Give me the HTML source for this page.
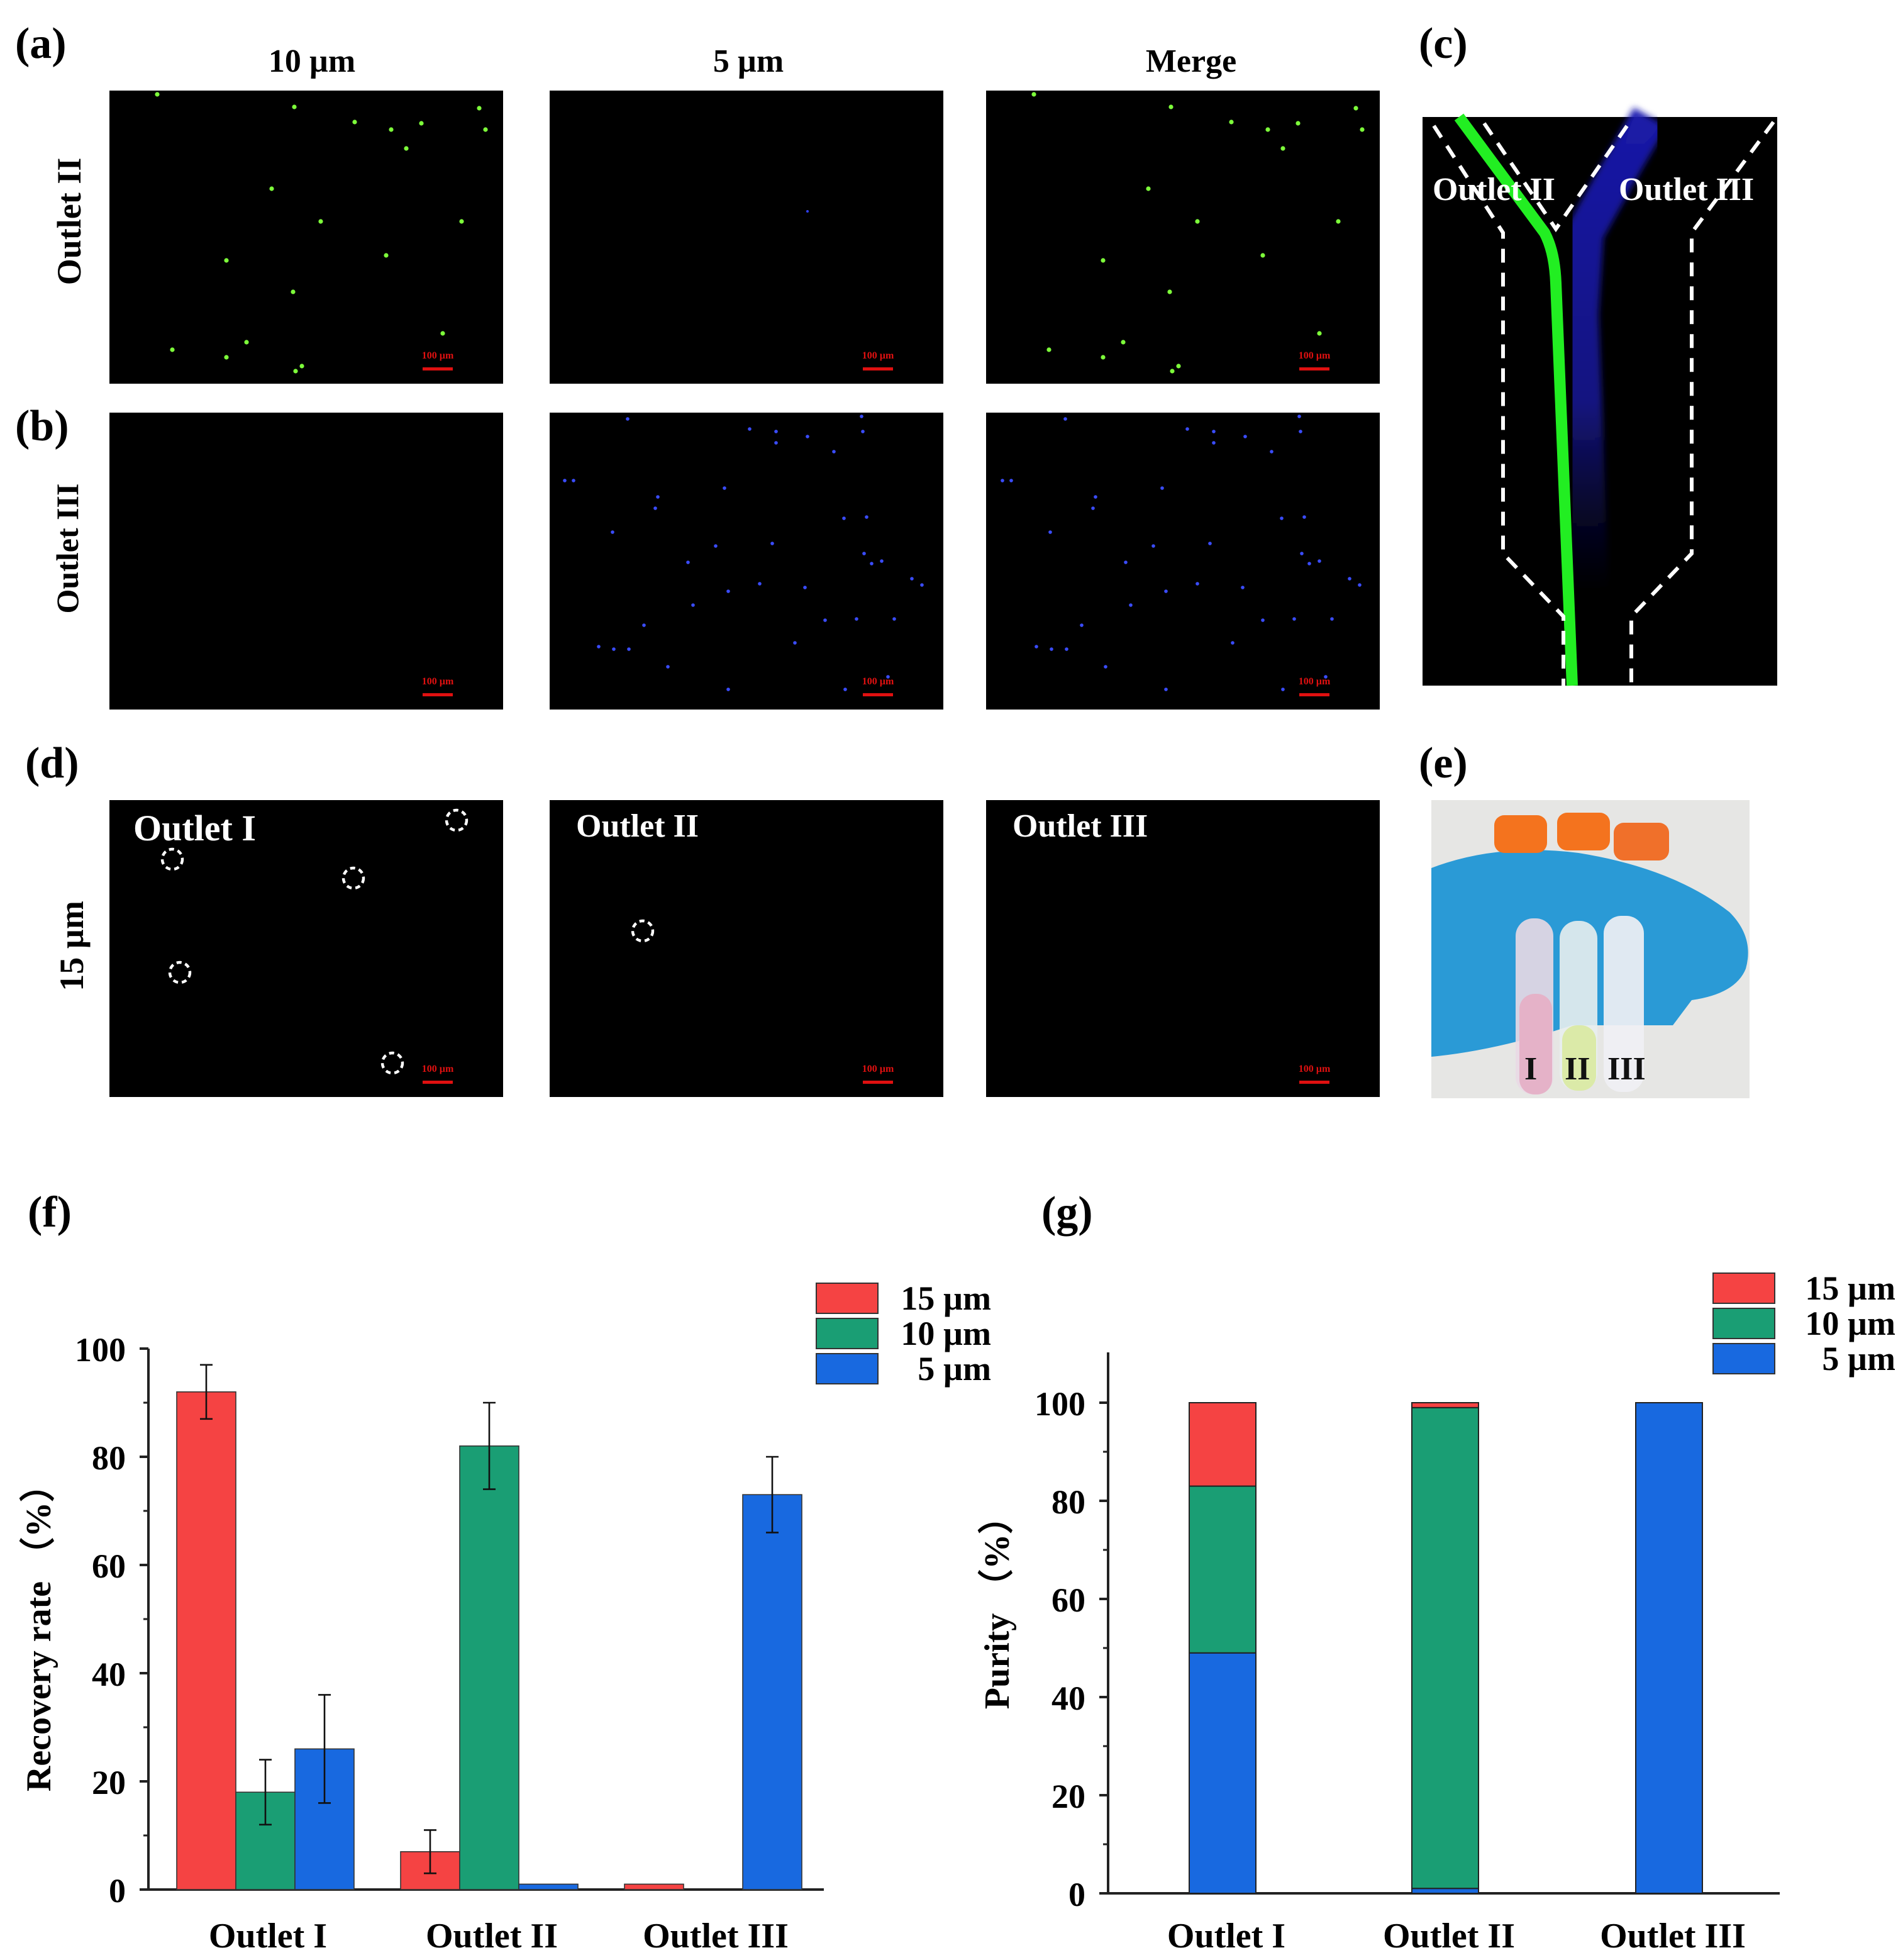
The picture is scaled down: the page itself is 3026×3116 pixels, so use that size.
<!DOCTYPE html>
<html><head><meta charset="utf-8"><style>
html,body{margin:0;padding:0;background:#fff}
svg{display:block}
text{font-family:"Liberation Serif",serif;font-weight:bold}
</style></head><body>
<svg id="fig" width="3026" height="3116" viewBox="0 0 1513 1558" xmlns="http://www.w3.org/2000/svg">
<defs>
<linearGradient id="blueFade" x1="0" y1="0" x2="0" y2="1">
<stop offset="0" stop-color="#1a1ab0" stop-opacity="0.95"/>
<stop offset="0.6" stop-color="#1a1aa0" stop-opacity="0.8"/>
<stop offset="1" stop-color="#101060" stop-opacity="0"/>
</linearGradient>
<filter id="soft"><feGaussianBlur stdDeviation="2.5"/></filter>
</defs>
<rect width="1513" height="1558" fill="#fff"/>
<g id="labels" font-size="35">
<text x="12" y="46">(a)</text>
<text x="12" y="350">(b)</text>
<text x="1128" y="46">(c)</text>
<text x="20" y="618">(d)</text>
<text x="1128" y="618">(e)</text>
<text x="22" y="975">(f)</text>
<text x="828" y="975">(g)</text>
</g>
<g font-size="26" text-anchor="middle">
<text x="248" y="57">10 µm</text>
<text x="595" y="57">5 µm</text>
<text x="947" y="57">Merge</text>
<text transform="translate(64,176) rotate(-90)" font-size="27">Outlet II</text>
<text transform="translate(62,436) rotate(-90)" font-size="25">Outlet III</text>
<text transform="translate(66,752) rotate(-90)" font-size="27">15 µm</text>
</g>
<g id="panels"></g>
<g>
<rect x="1131" y="93" width="282" height="452" fill="#000"/>
<path d="M1312,93 L1285,140 L1260,185 L1256,250 L1259,330 L1264,470" stroke="url(#blueFade)" stroke-width="30" fill="none" filter="url(#soft)"/>
<path d="M1160,93 L1228,185 Q1236,200 1237,225 L1250,545" stroke="#22ee22" stroke-width="9" fill="none"/>
<g stroke="#fff" stroke-width="3" stroke-dasharray="11,8" fill="none">
<path d="M1140,100 L1195,185 L1195,440 L1243,490 L1243,545"/>
<path d="M1180,98 L1237,182 L1295,98"/>
<path d="M1410,97 L1345,185 L1345,440 L1297,490 L1297,545"/>
</g>
<text x="1139" y="159" fill="#fff" font-size="26">Outlet II</text>
<text x="1287" y="159" fill="#fff" font-size="26">Outlet III</text>
</g>
<g>
<rect x="1138" y="636" width="253" height="237" fill="#e6e6e4"/>
<path d="M1138,690 Q1190,670 1255,678 Q1330,690 1375,725 Q1395,745 1388,770 Q1380,790 1345,795 L1330,815 L1250,815 Q1190,835 1138,840 Z" fill="#2a9ad6"/>
<rect x="1188" y="648" width="42" height="30" rx="8" fill="#f4731e"/>
<rect x="1238" y="646" width="42" height="30" rx="8" fill="#f4731e"/>
<rect x="1283" y="654" width="44" height="30" rx="8" fill="#f0702a"/>
<rect x="1205" y="730" width="30" height="140" rx="14" fill="#e9d9e4" opacity="0.9"/>
<rect x="1208" y="790" width="26" height="80" rx="12" fill="#e5b2c8"/>
<rect x="1240" y="732" width="30" height="135" rx="14" fill="#e8eeee" opacity="0.9"/>
<rect x="1242" y="815" width="27" height="52" rx="12" fill="#dbeaa8"/>
<rect x="1275" y="728" width="32" height="140" rx="14" fill="#f0f0f4" opacity="0.92"/>
<text x="1212" y="858" font-size="26" fill="#111">I</text>
<text x="1244" y="858" font-size="26" fill="#111">II</text>
<text x="1278" y="858" font-size="26" fill="#111">III</text>
</g>
<g id="chartF"></g>
<g id="chartG"></g>
</svg>
<script>
const NS='http://www.w3.org/2000/svg';
function mk(tag,attrs,parent,txt){const e=document.createElementNS(NS,tag);for(const k in attrs)e.setAttribute(k,attrs[k]);if(txt!==undefined)e.textContent=txt;parent.appendChild(e);return e;}

const greenDots=[[125,75],[234,85],[282,97],[311,103],[335,98],[381,86],[386,103],[323,118],[216,150],[255,176],[367,176],[307,203],[180,207],[233,232],[352,265],[196,272],[180,284],[240,291],[235,295],[137,278]];
const blueDots=[[499,333],[596,341],[617,343],[642,347],[685,331],[686,343],[617,352],[456,382],[449,382],[576,388],[523,395],[521,404],[663,359],[671,412],[689,411],[487,423],[569,434],[614,432],[687,440],[701,446],[693,448],[547,447],[579,470],[604,464],[733,465],[725,460],[551,481],[512,497],[476,514],[488,516],[500,516],[531,530],[656,493],[681,492],[711,492],[706,538],[672,548],[579,548],[632,511],[640,467]];
const panels=document.getElementById('panels');
const cols=[87,437,784], rows=[[72,233],[328,236],[636,236]];
rows.forEach((r,ri)=>cols.forEach((cx,ci)=>{
  const g=mk('g',{},panels);
  
  
  mk('rect',{x:cx,y:r[0],width:313,height:r[1],fill:'#000'},g);
  mk('rect',{x:cx+249,y:r[0]+r[1]-13,width:24,height:2.5,fill:'#e01010'},g);
  mk('text',{x:cx+261,y:r[0]+r[1]-20,'font-size':8,fill:'#e01010','text-anchor':'middle'},g,'100 µm');
  if(ri===0&&ci!==1) greenDots.forEach(d=>mk('circle',{cx:d[0]+(ci===2?697:0),cy:d[1],r:1.8,fill:'#7dff3a'},g));
  if(ri===0&&ci===1) mk('circle',{cx:642,cy:168,r:1,fill:'#3040ff'},g);
  if(ri===1&&ci!==0) blueDots.forEach(d=>mk('circle',{cx:d[0]+(ci===2?348:0),cy:d[1],r:1.4,fill:'#3a4cff'},g));
}));
const dLabels=['Outlet  I','Outlet II','Outlet III'];
const dCircles=[[[137,683],[281,698],[363,652],[143,773],[312,845]],[[511,740]],[]];
cols.forEach((cx,i)=>{
  const t=mk('text',{x:cx+(i===0?19:21),y:i===0?668:665,fill:'#fff','font-size':i===0?29:26},panels,dLabels[i]);
  
  
  dCircles[i].forEach(c=>mk('circle',{cx:c[0],cy:c[1],r:8,fill:'none',stroke:'#fff','stroke-width':2.2,'stroke-dasharray':'4,3'},panels));
});

// ---- chart (f) data ----
const fCategories=['Outlet I','Outlet II','Outlet III'];
const fSeries=['15 µm','10 µm','5 µm'];
const fRed=[92,7,1];
const fGreen=[18,82,0];
const fBlue=[26,1,73];
const fRedErr=[5,4,0];
const fGreenErr=[6,8,0];
const fBlueErr=[10,0,7];
const fTicks=[0,20,40,60,80,100];

// ---- chart (g) data ----
const gCategories=['Outlet I','Outlet II','Outlet III'];
const gBlue=[49,1,100];
const gGreen=[34,98,0];
const gRed=[17,1,0];
const gTicks=[0,20,40,60,80,100];

const colors=['#f54343','#1a9e74','#1869e0'];

function axisY(g,x,y0,y1,vmax,ticks,xEnd,yTop){
  mk('line',{x1:x,y1:yTop,x2:x,y2:y0,stroke:'#222','stroke-width':2},g);
  mk('line',{x1:x-6,y1:y0,x2:xEnd,y2:y0,stroke:'#222','stroke-width':2},g);
  const sc=v=>y0-(y0-y1)*v/vmax;
  for(let v=10;v<=vmax;v+=20) mk('line',{x1:x-4,y1:sc(v),x2:x,y2:sc(v),stroke:'#222','stroke-width':1.5},g);
  ticks.forEach(v=>{
    mk('line',{x1:x-7,y1:sc(v),x2:x,y2:sc(v),stroke:'#222','stroke-width':2},g);
    const t=mk('text',{x:x-18,y:sc(v)+10,'font-size':27,'text-anchor':'end'},g,String(v));
    
    
  });
  return sc;
}
function legend(g,x,y,step,tx){
  fSeries.forEach((s,i)=>{
    const r=mk('rect',{x:x,y:y+i*step,width:49,height:24,fill:colors[i],stroke:'#333','stroke-width':1},g);
    
    
    const t=mk('text',{x:tx,y:y+i*step+21,'font-size':27,'text-anchor':'end'},g,i===2?'5  µm':s);
    
    
  });
}

(function(){
  const g=document.getElementById('chartF');
  
  
  const x0=118, y0=1502, y100=1072;
  const sc=axisY(g,x0,y0,y100,100,fTicks,655,1072);
  const centers=[211,389,567], bw=47;
  const vals=[fRed,fGreen,fBlue], errs=[fRedErr,fGreenErr,fBlueErr];
  fCategories.forEach((c,ci)=>{
    vals.forEach((arr,si)=>{
      const v=arr[ci]; if(v<=0) return;
      const bx=centers[ci]+(si-1.5)*bw;
      const r=mk('rect',{x:bx,y:sc(v),width:bw,height:y0-sc(v),fill:colors[si],stroke:'#333','stroke-width':0.8},g);
      
      
      const e=errs[si][ci];
      if(e>0){const mx=bx+bw/2;
        mk('line',{x1:mx,y1:sc(v+e),x2:mx,y2:sc(v-e),stroke:'#111','stroke-width':1.3},g);
        mk('line',{x1:mx-5,y1:sc(v+e),x2:mx+5,y2:sc(v+e),stroke:'#111','stroke-width':1.3},g);
        mk('line',{x1:mx-5,y1:sc(v-e),x2:mx+5,y2:sc(v-e),stroke:'#111','stroke-width':1.3},g);}
    });
    const t=mk('text',{x:centers[ci]+2,y:1548,'font-size':28,'text-anchor':'middle'},g,c);
    
    
  });
  const yt=mk('text',{transform:'translate(40,1295) rotate(-90)','font-size':28,'text-anchor':'middle'},g,'Recovery rate （%）');
  
  
  legend(g,649,1020,28,788);
})();

(function(){
  const g=document.getElementById('chartG');
  
  
  const x0=881, y0=1505, y100=1115;
  const sc=axisY(g,x0,y0,y100,100,gTicks,1415,1075);
  const centers=[972,1149,1327], bw=53;
  const stack=[gBlue,gGreen,gRed], sColors=[colors[2],colors[1],colors[0]];
  gCategories.forEach((c,ci)=>{
    let base=0;
    stack.forEach((arr,si)=>{
      const v=arr[ci]; if(v<=0) return;
      const r=mk('rect',{x:centers[ci]-bw/2,y:sc(base+v),width:bw,height:sc(base)-sc(base+v),fill:sColors[si],stroke:'#222','stroke-width':1},g);
      
      
      base+=v;
    });
    const t=mk('text',{x:centers[ci]+3,y:1548,'font-size':28,'text-anchor':'middle'},g,c);
    
    
  });
  const yt=mk('text',{transform:'translate(802,1275) rotate(-90)','font-size':28,'text-anchor':'middle'},g,'Purity （%）');
  
  
  legend(g,1362,1012,28,1507);
})();
</script>
</body></html>
